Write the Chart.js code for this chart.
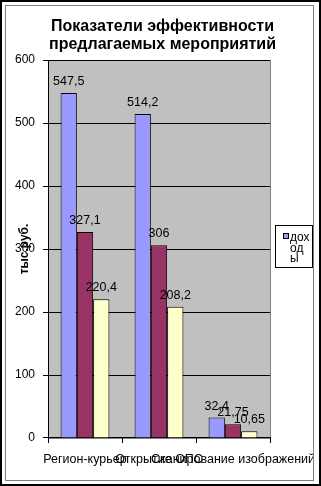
<!DOCTYPE html>
<html>
<head>
<meta charset="utf-8">
<style>
  body { margin: 0; background: #fff; }
  #frame { position: relative; width: 321px; height: 486px; box-sizing: border-box; border: 2px solid #000; background: #fff; }
  #inner { position: absolute; left: 3px; top: 3px; width: 309px; height: 476px; box-sizing: border-box; border: 1px solid #808080; }
  #myChart { display: block; }
</style>
</head>
<body>
<div id="frame">
  <div id="inner">
    <canvas id="myChart" width="307" height="474"></canvas>
  </div>
</div>

<script src="https://cdn.jsdelivr.net/npm/chart.js"></script>
<script>
    var categories = ['Регион-курьер', 'Открытие ОПС', 'Сканирование изображений']
    var seriesNames = ['доходы', 'расходы', 'прибыль']
    var dohody = [547.5, 514.2, 32.4]
    var rashody = [327.1, 306, 21.75]
    var pribyl = [220.4, 208.2, 10.65]
    var yMax = 600
    var yStep = 100
    var legendLines = ['дох', 'од', 'ы']

    var FONT = '"Liberation Sans", Arial, sans-serif'

    // серый фон области построения
    var plotBg = {
        id: 'plotBg',
        beforeDraw: function (chart) {
            var a = chart.chartArea, ctx = chart.ctx
            ctx.save()
            ctx.fillStyle = '#C0C0C0'
            ctx.fillRect(a.left, a.top, a.right - a.left, a.bottom - a.top)
            ctx.strokeStyle = '#808080'
            ctx.lineWidth = 1
            ctx.strokeRect(Math.round(a.left) + 0.5, Math.round(a.top) + 0.5, Math.round(a.right - a.left), Math.round(a.bottom - a.top))
            ctx.restore()
        }
    }

    // подписи значений над столбцами
    var valueLabels = {
        id: 'valueLabels',
        afterDatasetsDraw: function (chart) {
            var ctx = chart.ctx
            ctx.save()
            ctx.font = '12.5px ' + FONT
            ctx.fillStyle = '#000'
            ctx.textAlign = 'center'
            ctx.textBaseline = 'middle'
            chart.data.datasets.forEach(function (ds, i) {
                chart.getDatasetMeta(i).data.forEach(function (bar, j) {
                    var txt = String(ds.data[j]).replace('.', ',')
                    ctx.fillText(txt, bar.x, bar.y - 11.5)
                })
            })
            ctx.restore()
        }
    }

    // легенда как в Excel (узкая, с переносом)
    var excelLegend = {
        id: 'excelLegend',
        afterDraw: function (chart) {
            var ctx = chart.ctx
            var a = chart.chartArea
            var x0 = a.right + 5, y0 = 219, w = 38, h = 43
            ctx.save()
            ctx.fillStyle = '#fff'
            ctx.fillRect(x0, y0, w, h)
            ctx.strokeStyle = '#000'
            ctx.lineWidth = 1
            ctx.strokeRect(x0 + 0.5, y0 + 0.5, w - 1, h - 1)
            var ds = chart.data.datasets[0]
            ctx.fillStyle = ds.backgroundColor
            ctx.fillRect(x0 + 8, y0 + 8, 5, 5)
            ctx.strokeStyle = '#000'
            ctx.strokeRect(x0 + 8.5, y0 + 8.5, 5, 5)
            ctx.fillStyle = '#000'
            ctx.font = '12px ' + FONT
            ctx.textBaseline = 'middle'
            ctx.textAlign = 'left'
            legendLines.forEach(function (ln, k) {
                ctx.fillText(ln, x0 + 15, y0 + 13 + k * 10.5)
            })
            ctx.restore()
        }
    }

    var ctx = document.getElementById('myChart')

    var myChart = new Chart(ctx, {
        type: 'bar',
        data: {
            labels: categories,
            datasets: [{
                label: seriesNames[0],
                data: dohody,
                backgroundColor: '#9999FF',
                borderColor: '#000',
                borderWidth: 1
            }, {
                label: seriesNames[1],
                data: rashody,
                backgroundColor: '#993366',
                borderColor: '#000',
                borderWidth: 1
            }, {
                label: seriesNames[2],
                data: pribyl,
                backgroundColor: '#FFFFCC',
                borderColor: '#000',
                borderWidth: 1
            }]
        },
        options: {
            responsive: false,
            animation: false,
            events: [],
            layout: { padding: { top: 0, left: 6, right: 0, bottom: 0 } },
            datasets: {
                bar: { categoryPercentage: 0.66, barPercentage: 1 }
            },
            scales: {
                x: {
                    grid: { display: true, drawOnChartArea: false, drawTicks: true, tickLength: 5, color: '#000', offset: true },
                    border: { display: true, color: '#000', width: 1 },
                    ticks: {
                        autoSkip: false, maxRotation: 0, minRotation: 0,
                        color: '#000', padding: 9,
                        font: { family: FONT, size: 12.5 }
                    },
                    // место справа под легенду
                    afterFit: function (s) { s.height = 42; s.paddingLeft = 0; s.paddingRight = 43 }
                },
                y: {
                    min: 0, max: yMax,
                    grid: { color: '#000', lineWidth: 1, drawTicks: true, tickLength: 5 },
                    border: { display: true, color: '#000', width: 1 },
                    ticks: {
                        stepSize: yStep, color: '#000', padding: 8,
                        font: { family: FONT, size: 12 }
                    },
                    title: {
                        display: true, text: 'тыс.руб.', color: '#000',
                        font: { family: FONT, size: 12, weight: 'bold' },
                        padding: { top: 5, bottom: 0 }
                    },
                    afterFit: function (s) { s.width = 36; s.paddingTop = 0; s.paddingBottom = 0 }
                }
            },
            plugins: {
                legend: { display: false },
                tooltip: { enabled: false },
                title: {
                    display: true,
                    text: ['Показатели эффективности', 'предлагаемых мероприятий'],
                    color: '#000',
                    font: { family: FONT, size: 16, weight: 'bold', lineHeight: 1.094 },
                    padding: { top: 12, bottom: 7 }
                }
            }
        },
        plugins: [plotBg, valueLabels, excelLegend]
    })
</script>
</body>
</html>
